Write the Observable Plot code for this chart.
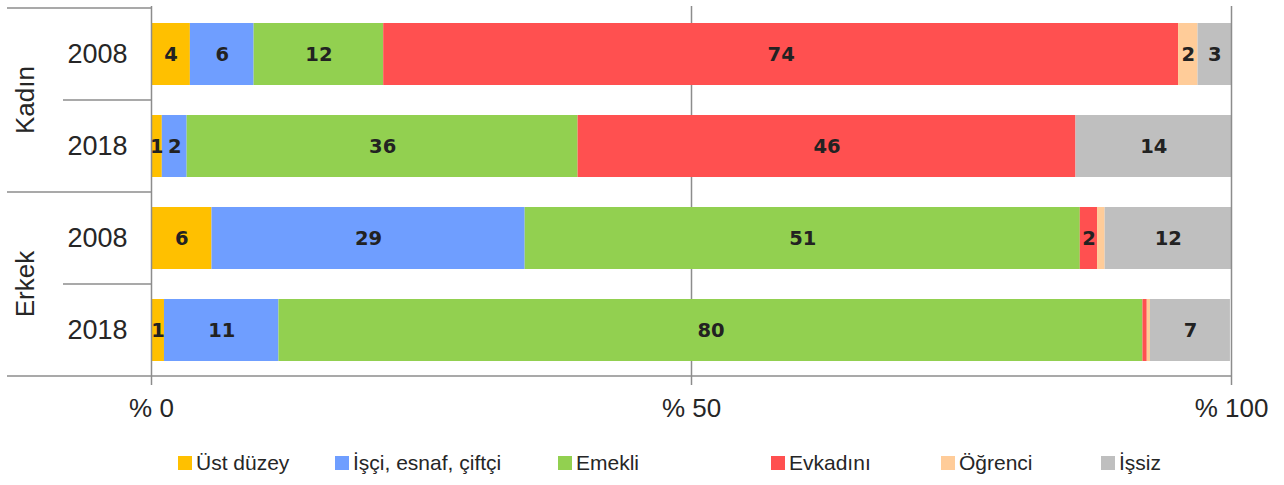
<!DOCTYPE html>
<html><head><meta charset="utf-8">
<script src="https://cdn.jsdelivr.net/npm/d3@7"></script>
<script src="https://cdn.jsdelivr.net/npm/@observablehq/plot@0.6"></script>
<style>
body{margin:0;background:#fff;font-family:"Liberation Sans",Arial,sans-serif;}
#legend{display:flex;height:45px;align-items:center;padding-left:178px;font-size:21px;color:#262626;box-sizing:border-box;width:1284px}
.item{display:flex;align-items:center;white-space:nowrap}
.sw{width:14px;height:14px;margin-right:4px;flex:none}
</style></head><body><div id="chart"></div><div id="legend"></div>
<script>
const rows = ["Kadın 2008", "Kadın 2018", "Erkek 2008", "Erkek 2018"];
const groups = ["Kadın", "Kadın", "Erkek", "Erkek"];
const years = ["2008", "2018", "2008", "2018"];
const categories = ["Üst düzey", "İşçi, esnaf, çiftçi", "Emekli", "Evkadını", "Öğrenci", "İşsiz"];
const colors = ["#FFC000", "#6F9EFF", "#92D050", "#FF5050", "#FFCC99", "#BFBFBF"];
const ustDuzey = [3.6, 1.0, 5.6, 1.2];
const isci = [5.9, 2.3, 29.0, 10.6];
const emekli = [12.0, 36.2, 51.4, 80.0];
const evkadini = [73.6, 46.1, 1.6, 0.4];
const ogrenci = [1.8, 0.0, 0.7, 0.3];
const issiz = [3.1, 14.4, 11.7, 7.4];
const xTicks = [0, 50, 100];

const series = [ustDuzey, isci, emekli, evkadini, ogrenci, issiz];
const data = rows.flatMap((r, i) => categories.map((c, j) => ({row: r, group: groups[i], year: years[i], cat: c, value: series[j][i]})));

const gray = "#8c8c8c", ink = "#262626";
const chart = Plot.plot({
  width: 1284, height: 440,
  marginLeft: 151, marginRight: 53, marginTop: 6, marginBottom: 63,
  style: {fontFamily: "Liberation Sans, Arial, sans-serif", background: "white", color: ink},
  x: {domain: [0, 100], label: null},
  y: {domain: rows, paddingInner: 0.33, paddingOuter: 0.165, label: null},
  color: {domain: categories, range: colors},
  marks: [
    Plot.ruleX([xTicks[1]], {stroke: gray, strokeWidth: 1.5}),
    Plot.barX(data, Plot.stackX({x: "value", y: "row", fill: "cat"})),
    Plot.text(data, Plot.stackX({x: "value", y: "row", z: "cat",
      text: d => d.value >= 1 ? String(Math.round(d.value)) : "",
      fill: "#222", fontWeight: "bold", fontSize: 19.5, fontFamily: "DejaVu Sans"})),
    Plot.ruleX([xTicks[0], xTicks[2]], {stroke: gray, strokeWidth: 1.5}),
    Plot.axisX({ticks: xTicks, tickFormat: d => "% " + d, tickSize: 8, tickPadding: 13,
      stroke: gray, strokeWidth: 1.5, fill: ink, fontSize: 26, label: null}),
    Plot.axisY({tickSize: 0, tickPadding: 24, tickFormat: d => years[rows.indexOf(d)],
      fill: ink, fontSize: 27, label: null})
  ]
});
document.getElementById("chart").appendChild(chart);

// table lines and group labels derived from scales
const svg = d3.select(chart);
const ys = chart.scale("y"), xs = chart.scale("x");
const x0 = xs.apply(0), x100 = xs.apply(100);
const gap = (ys.step - ys.bandwidth) / 2;
const g = svg.append("g");
rows.forEach((r, i) => {
  const top = ys.apply(r) - gap;
  const start = (i === 0 || groups[i] !== groups[i - 1]) ? 7 : 63;
  g.append("line").attr("x1", start).attr("x2", x0).attr("y1", top).attr("y2", top)
    .attr("stroke", gray).attr("stroke-width", 1.5);
});
const bottom = ys.apply(rows[rows.length - 1]) + ys.bandwidth + gap;
g.append("line").attr("x1", 7).attr("x2", x100).attr("y1", bottom).attr("y2", bottom)
  .attr("stroke", gray).attr("stroke-width", 1.5);
const uniq = [...new Set(groups)];
uniq.forEach(gr => {
  const cs = rows.filter((r, i) => groups[i] === gr).map(r => ys.apply(r) + ys.bandwidth / 2);
  const cy = d3.mean(cs);
  g.append("text").attr("transform", `translate(25,${cy}) rotate(-90)`)
    .attr("text-anchor", "middle").attr("dominant-baseline", "central")
    .attr("font-size", 26).attr("fill", ink).text(gr);
});

// legend
const widths = [157, 223, 213, 170, 160, null];
const leg = d3.select("#legend");
categories.forEach((c, i) => {
  const it = leg.append("div").attr("class", "item");
  if (widths[i]) it.style("width", widths[i] + "px");
  it.append("div").attr("class", "sw").style("background", colors[i]);
  it.append("span").text(c);
});
</script>
</body></html>
